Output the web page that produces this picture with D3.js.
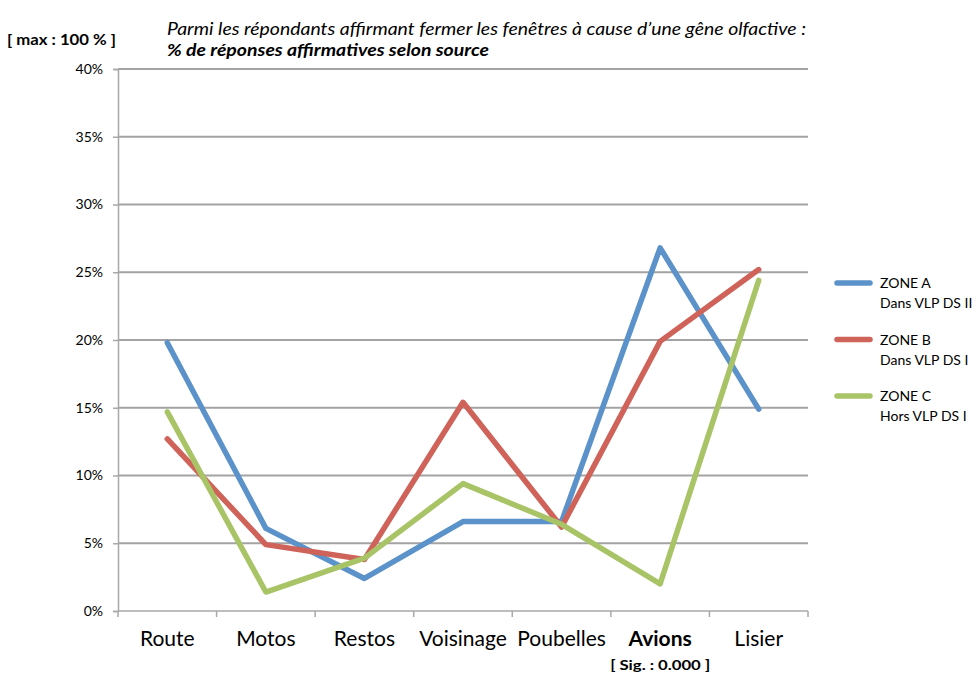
<!DOCTYPE html>
<html>
<head>
<meta charset="utf-8">
<script src="https://cdn.jsdelivr.net/npm/d3@7/dist/d3.min.js"></script>
<style>
  html, body { margin: 0; padding: 0; background: #fff; }
  svg { display: block; font-family: Lato, "Open Sans", sans-serif; }
</style>
</head>
<body>
<svg id="chart" width="976" height="675"></svg>
<script>
// Sources of odour nuisance (x categories)
const categories = ["Route", "Motos", "Restos", "Voisinage", "Poubelles", "Avions", "Lisier"];
// Share of affirmative answers (%) per zone
const zoneA = [19.8, 6.1, 2.4, 6.6, 6.6, 26.8, 14.9];
const zoneB = [12.7, 4.9, 3.8, 15.4, 6.2, 19.9, 25.2];
const zoneC = [14.7, 1.4, 3.9, 9.4, 6.4, 2.0, 24.4];
const seriesNames = [["ZONE A", "Dans VLP DS II"], ["ZONE B", "Dans VLP DS I"], ["ZONE C", "Hors VLP DS I"]];
const seriesColors = ["#5b92c9", "#cf6259", "#a8c466"];
const yTicks = [0, 5, 10, 15, 20, 25, 30, 35, 40];
const boldCategory = "Avions";

const series = [zoneA, zoneB, zoneC];
const svg = d3.select("#chart");
const plot = { left: 118, right: 808, top: 69, bottom: 611 };

const x = d3.scaleBand().domain(categories).range([plot.left, plot.right]);
const y = d3.scaleLinear().domain([0, 40]).range([plot.bottom, plot.top]);

// Horizontal gridlines
svg.append("g").selectAll("line").data(yTicks.filter(d => d > 0)).join("line")
  .attr("x1", plot.left).attr("x2", plot.right)
  .attr("y1", d => y(d)).attr("y2", d => y(d))
  .attr("stroke", "#a3a3a3").attr("stroke-width", 2.2);

// Y axis
const yAxis = svg.append("g").attr("transform", `translate(${plot.left},0)`)
  .call(d3.axisLeft(y).tickValues(yTicks).tickFormat(d => d + "%").tickSize(5).tickPadding(10));
yAxis.select(".domain").attr("stroke", "#a8a8a8").attr("stroke-width", 1.5);
yAxis.selectAll(".tick line").attr("stroke", "#a8a8a8").attr("stroke-width", 1.5);
yAxis.selectAll(".tick text").attr("font-size", 14).attr("fill", "#000")
  .attr("font-family", "Lato, sans-serif");

// X axis with ticks on category boundaries
const xAxisG = svg.append("g").attr("transform", `translate(0,${plot.bottom})`);
xAxisG.append("line").attr("x1", plot.left).attr("x2", plot.right)
  .attr("stroke", "#a8a8a8").attr("stroke-width", 1.5);
const boundaries = categories.map(c => x(c)).concat([plot.right]);
xAxisG.selectAll("line.tk").data(boundaries).join("line").attr("class", "tk")
  .attr("x1", d => d).attr("x2", d => d).attr("y1", 0).attr("y2", 6)
  .attr("stroke", "#a8a8a8").attr("stroke-width", 1.5);
xAxisG.selectAll("text").data(categories).join("text")
  .attr("x", d => x(d) + x.bandwidth() / 2).attr("y", 35)
  .attr("text-anchor", "middle").attr("font-size", 21)
  .attr("font-weight", d => d === boldCategory ? 700 : 400)
  .text(d => d);
svg.append("text")
  .attr("x", x(boldCategory) + x.bandwidth() / 2).attr("y", 670)
  .attr("text-anchor", "middle").attr("font-size", 14).attr("font-weight", 700)
  .attr("textLength", 100).attr("lengthAdjust", "spacingAndGlyphs")
  .text("[ Sig. : 0.000 ]");

// Series lines
const line = d3.line().x((d, i) => x(categories[i]) + x.bandwidth() / 2).y(d => y(d));
svg.append("g").selectAll("path").data(series).join("path")
  .attr("d", line).attr("fill", "none")
  .attr("stroke", (d, i) => seriesColors[i]).attr("stroke-width", 5.5)
  .attr("stroke-linejoin", "round").attr("stroke-linecap", "round");

// Legend
const legend = svg.append("g").selectAll("g").data(seriesNames).join("g")
  .attr("transform", (d, i) => `translate(836,${283 + i * 56.5})`);
legend.append("line").attr("x1", 1).attr("x2", 34)
  .attr("stroke", (d, i) => seriesColors[i]).attr("stroke-width", 5.5).attr("stroke-linecap", "round");
legend.append("text").attr("x", 44).attr("y", 5).attr("font-size", 14).text(d => d[0]);
legend.append("text").attr("x", 44).attr("y", 25).attr("font-size", 14).text(d => d[1]);

// Titles
svg.append("text").attr("x", 7).attr("y", 45).attr("font-size", 15).attr("font-weight", 700)
  .attr("textLength", 109).attr("lengthAdjust", "spacingAndGlyphs")
  .text("[ max : 100 % ]");
svg.append("text").attr("x", 167).attr("y", 35).attr("font-size", 17).attr("font-style", "italic")
  .attr("textLength", 639).attr("lengthAdjust", "spacingAndGlyphs")
  .text("Parmi les répondants affirmant fermer les fenêtres à cause d’une gêne olfactive :");
svg.append("text").attr("x", 167).attr("y", 56).attr("font-size", 17).attr("font-style", "italic")
  .attr("font-weight", 700).attr("textLength", 322).attr("lengthAdjust", "spacingAndGlyphs")
  .text("% de réponses affirmatives selon source");
</script>
</body>
</html>
